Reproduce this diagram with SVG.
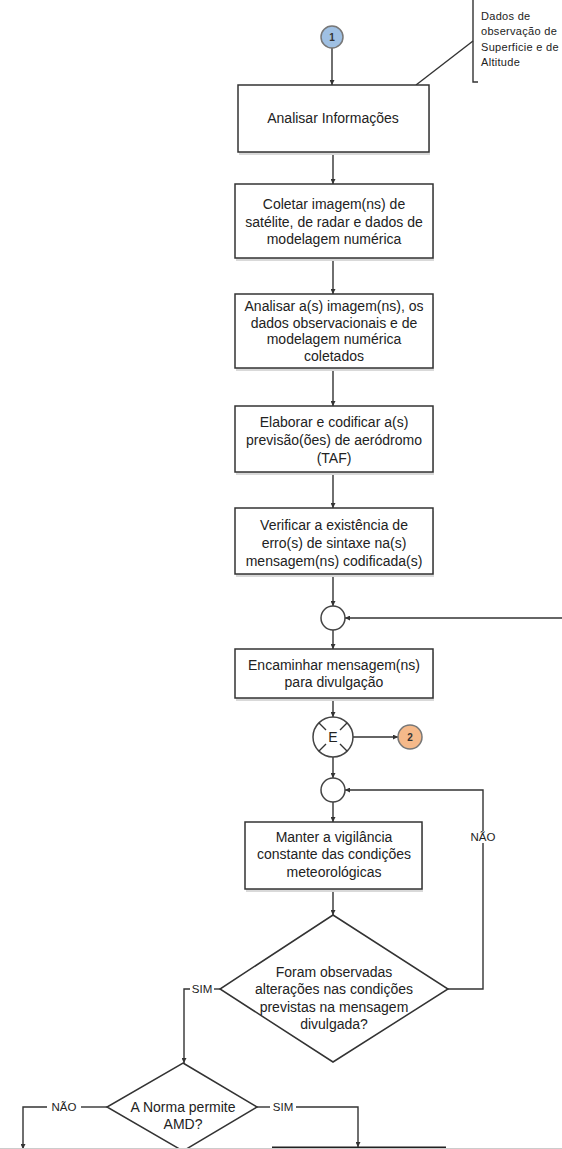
<svg xmlns="http://www.w3.org/2000/svg" width="562" height="1149" viewBox="0 0 562 1149">
<style>
.box{fill:#fff;stroke:#333;stroke-width:1.5}
.shadow{fill:#d9d9d9}
.t{font-family:"Liberation Sans",Arial,sans-serif;font-size:14px;fill:#222;text-anchor:middle}
.lbl{font-family:"Liberation Sans",Arial,sans-serif;font-size:11.5px;fill:#222;text-anchor:middle}
.note{font-family:"Liberation Sans",Arial,sans-serif;font-size:11px;letter-spacing:0.3px;fill:#222}
.ln{fill:none;stroke:#333;stroke-width:1.4}
.circ{fill:#fff;stroke:#444;stroke-width:1.5}
</style>
<defs>
<marker id="ah" viewBox="0 0 6 6" refX="6" refY="3" markerWidth="5" markerHeight="5" orient="auto" markerUnits="userSpaceOnUse">
<path d="M0,0 L6,3 L0,6 z" fill="#333"/>
</marker>
</defs>
<rect x="0" y="0" width="562" height="1149" fill="#fff"/>

<g id="annotation">
<path class="ln" d="M473,0 V82 H478" stroke-width="1.6"/>
<text class="note" x="481" y="20">Dados de</text>
<text class="note" x="481" y="35">observação de</text>
<text class="note" x="481" y="51">Superficie e de</text>
<text class="note" x="481" y="66">Altitude</text>
</g>

<g id="connectors">
<line class="ln" x1="416" y1="85" x2="473" y2="41"/>
<line class="ln" x1="332" y1="48" x2="332" y2="85" marker-end="url(#ah)"/>
<line class="ln" x1="333" y1="152" x2="333" y2="184" marker-end="url(#ah)"/>
<line class="ln" x1="333" y1="258" x2="333" y2="294" marker-end="url(#ah)"/>
<line class="ln" x1="333" y1="368" x2="333" y2="406" marker-end="url(#ah)"/>
<line class="ln" x1="333" y1="472" x2="333" y2="508" marker-end="url(#ah)"/>
<line class="ln" x1="333" y1="574" x2="333" y2="606" marker-end="url(#ah)"/>
<line class="ln" x1="562" y1="618" x2="345" y2="618" marker-end="url(#ah)"/>
<line class="ln" x1="333" y1="630" x2="333" y2="649" marker-end="url(#ah)"/>
<line class="ln" x1="333" y1="698" x2="333" y2="717" marker-end="url(#ah)"/>
<line class="ln" x1="353" y1="737" x2="398" y2="737" marker-end="url(#ah)"/>
<line class="ln" x1="333" y1="757" x2="333" y2="778" marker-end="url(#ah)"/>
<path class="ln" d="M448,989 H483 V843"/>
<path class="ln" d="M483,831 V790 H345" marker-end="url(#ah)"/>
<text class="lbl" x="483" y="841">NÃO</text>
<line class="ln" x1="333" y1="802" x2="333" y2="822" marker-end="url(#ah)"/>
<line class="ln" x1="333" y1="889" x2="333" y2="915" marker-end="url(#ah)"/>
<line class="ln" x1="220" y1="989" x2="214" y2="989"/>
<text class="lbl" x="202" y="993">SIM</text>
<path class="ln" d="M190,989 H184 V1063" marker-end="url(#ah)"/>
<line class="ln" x1="107" y1="1107" x2="81" y2="1107"/>
<text class="lbl" x="64" y="1111">NÃO</text>
<path class="ln" d="M47,1107 H23 V1149" marker-end="url(#ah)"/>
<line class="ln" x1="257" y1="1107" x2="270" y2="1107"/>
<text class="lbl" x="283" y="1111">SIM</text>
<path class="ln" d="M296,1107 H358 V1147" marker-end="url(#ah)"/>
</g>

<g id="c1">
<circle cx="332" cy="37" r="11" fill="#9fc0e3" stroke="#777" stroke-width="1.5"/>
<text x="332" y="41" font-family="Liberation Sans,Arial,sans-serif" font-size="10" font-weight="bold" fill="#333" text-anchor="middle">1</text>
</g>

<g id="n1">
<rect class="shadow" x="239" y="88" width="191" height="67"/>
<rect class="box" x="238" y="85" width="191" height="67"/>
<text class="t" x="333" y="123">Analisar Informações</text>
</g>

<g id="n2">
<rect class="shadow" x="236" y="187" width="198" height="74"/>
<rect class="box" x="235" y="184" width="198" height="74"/>
<text class="t" x="334" y="209">Coletar imagem(ns) de</text>
<text class="t" x="334" y="227">satélite, de radar e dados de</text>
<text class="t" x="334" y="244">modelagem numérica</text>
</g>

<g id="n3">
<rect class="shadow" x="236" y="297" width="198" height="74"/>
<rect class="box" x="235" y="294" width="198" height="74"/>
<text class="t" x="334" y="311">Analisar a(s) imagem(ns), os</text>
<text class="t" x="334" y="328">dados observacionais e de</text>
<text class="t" x="334" y="344">modelagem numérica</text>
<text class="t" x="334" y="361">coletados</text>
</g>

<g id="n4">
<rect class="shadow" x="236" y="409" width="198" height="66"/>
<rect class="box" x="235" y="406" width="198" height="66"/>
<text class="t" x="334" y="427">Elaborar e codificar a(s)</text>
<text class="t" x="334" y="445">previsão(ões) de aeródromo</text>
<text class="t" x="334" y="463">(TAF)</text>
</g>

<g id="n5">
<rect class="shadow" x="236" y="511" width="198" height="66"/>
<rect class="box" x="235" y="508" width="198" height="66"/>
<text class="t" x="334" y="530">Verificar a existência de</text>
<text class="t" x="334" y="548">erro(s) de sintaxe na(s)</text>
<text class="t" x="334" y="566">mensagem(ns) codificada(s)</text>
</g>

<g id="j1">
<circle class="circ" cx="333" cy="618" r="12"/>
</g>

<g id="n6">
<rect class="shadow" x="236" y="652" width="198" height="49"/>
<rect class="box" x="235" y="649" width="198" height="49"/>
<text class="t" x="334" y="670">Encaminhar mensagem(ns)</text>
<text class="t" x="334" y="687">para divulgação</text>
</g>

<g id="e">
<circle class="circ" cx="333" cy="737" r="20"/>
<path class="ln" d="M319,723 L326,730 M347,723 L340,730 M319,751 L326,744 M347,751 L340,744"/>
<text x="333" y="742" font-family="Liberation Sans,Arial,sans-serif" font-size="14" fill="#222" text-anchor="middle">E</text>
</g>

<g id="c2">
<circle cx="410" cy="737" r="12" fill="#f5b98a" stroke="#777" stroke-width="1.5"/>
<text x="410" y="741" font-family="Liberation Sans,Arial,sans-serif" font-size="10" font-weight="bold" fill="#333" text-anchor="middle">2</text>
</g>

<g id="j2">
<circle class="circ" cx="333" cy="790" r="12"/>
</g>

<g id="n7">
<rect class="shadow" x="246" y="825" width="177" height="67"/>
<rect class="box" x="245" y="822" width="177" height="67"/>
<text class="t" x="334" y="842">Manter a vigilância</text>
<text class="t" x="334" y="859">constante das condições</text>
<text class="t" x="334" y="877">meteorológicas</text>
</g>

<g id="d1">
<polygon class="box" points="333,915 448,989 333,1062 220,989"/>
<text class="t" x="334" y="977">Foram observadas</text>
<text class="t" x="334" y="994">alterações nas condições</text>
<text class="t" x="334" y="1012">previstas na mensagem</text>
<text class="t" x="334" y="1029">divulgada?</text>
</g>

<g id="d2">
<polygon class="box" points="183,1063 257,1107 183,1151 107,1107"/>
<text class="t" x="183" y="1112">A Norma permite</text>
<text class="t" x="183" y="1129">AMD?</text>
</g>

<g id="n8">
<line x1="272" y1="1147.5" x2="446" y2="1147.5" stroke="#222" stroke-width="2"/>
</g>
<line x1="0" y1="1148.5" x2="562" y2="1148.5" stroke="#ccc" stroke-width="1"/>
</svg>
